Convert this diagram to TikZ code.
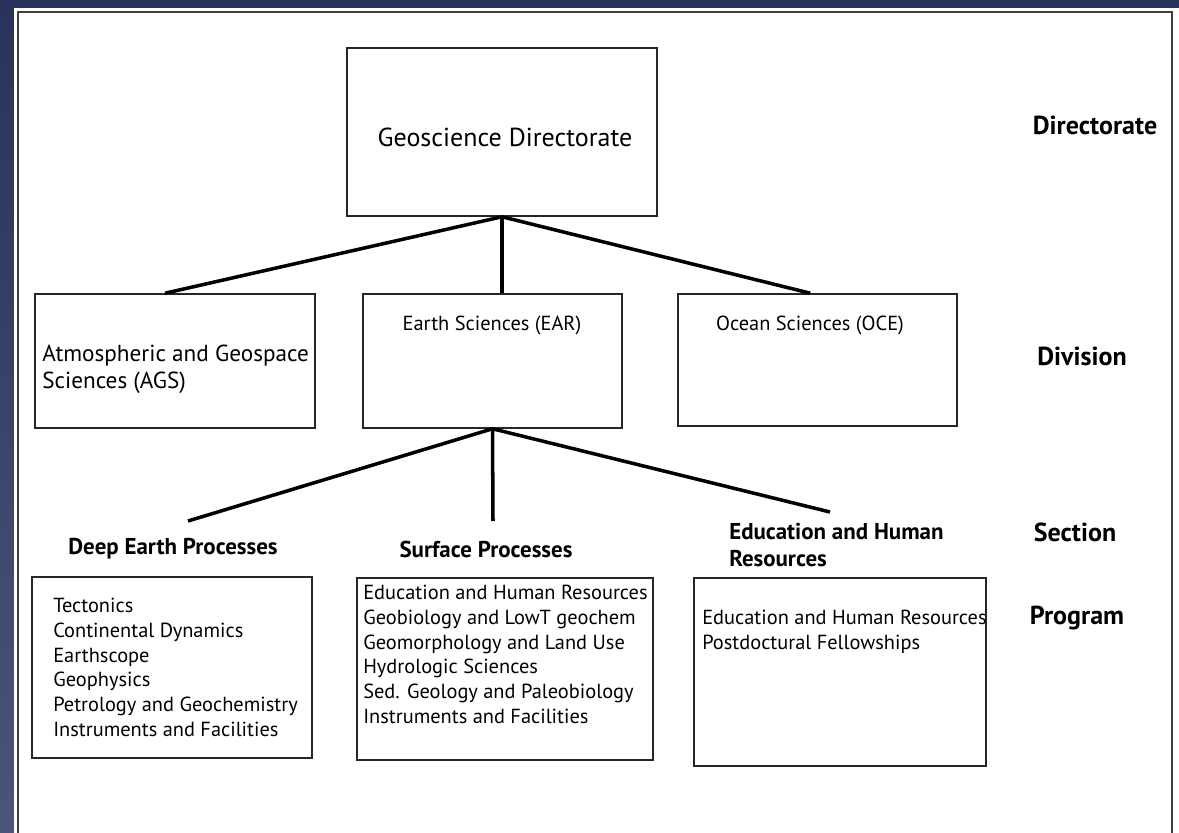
\documentclass[tikz,border=0pt]{standalone}
\usepackage{fontspec}
\setmainfont{PT Sans}
\definecolor{navy}{HTML}{29325A}
\definecolor{navylight}{HTML}{4B5579}
\begin{document}
\begin{tikzpicture}[
  x=0.025cm, y=-0.025cm,
  box/.style={draw=black!85, line width=1.1pt, inner sep=0pt},
  txt/.style={font=\fontsize{14.5}{17.6}\selectfont, align=left, inner sep=0pt},
  head/.style={font=\fontsize{16.3}{19.2}\selectfont\bfseries, align=left, inner sep=0pt},
  level/.style={font=\fontsize{18.5}{22}\selectfont\bfseries, inner sep=0pt},
  link/.style={line width=2.5pt}
]
  \useasboundingbox (0,0) rectangle (1179,833);
  % background and frame
  \fill[navy] (0,0) rectangle (1179,833);
  \shade[top color=navy, bottom color=navylight] (0,0) rectangle (14,833);
  \fill[white] (14,8) rectangle (1179,840);
  \draw[black!75, line width=1.2pt] (18,12) rectangle (1172,850);

  % directorate
  \node[box, minimum width=310*0.025cm, minimum height=168*0.025cm] (geo) at (502,132) {};
  \node[txt, font=\fontsize{18.5}{22}\selectfont] (geo-t) at (505,137) {Geoscience Directorate};

  % divisions
  \node[box, minimum width=280*0.025cm, minimum height=134*0.025cm] (ags) at (175,361) {};
  \node[box, minimum width=259*0.025cm, minimum height=134*0.025cm] (ear) at (492.5,361) {};
  \node[box, minimum width=279*0.025cm, minimum height=132*0.025cm] (oce) at (817.5,360) {};
  \node[txt, font=\fontsize{16.5}{19.2}\selectfont, anchor=west] (ags-t) at (42,369) {Atmospheric and Geospace\\Sciences (AGS)};
  \node[txt] (ear-t) at (492,325) {Earth Sciences (EAR)};
  \node[txt] (oce-t) at (810,325) {Ocean Sciences (OCE)};

  \draw[link] (geo.south) -- ([xshift=-0.25cm]ags.north);
  \draw[link] (geo.south) -- (ear.north -| geo.south);
  \draw[link] (geo.south) -- ([xshift=-0.18cm]oce.north);

  % sections
  \node[head] (dep) at (173,549) {Deep Earth Processes};
  \node[head] (sp) at (486,549) {Surface Processes};
  \node[head, anchor=north west] (ehr) at (729,523) {Education and Human\\Resources};
  \coordinate (dep-top) at (188,521);
  \coordinate (sp-top) at (493,521);
  \coordinate (ehr-top) at (830,512);
  \draw[link] (ear.south) -- (dep-top);
  \draw[link] (ear.south) -- (sp-top);
  \draw[link] (ear.south) -- (ehr-top);

  % programs
  \node[box, minimum width=280*0.025cm, minimum height=181*0.025cm] (dep-p) at (172,667.5) {};
  \node[box, minimum width=296*0.025cm, minimum height=182*0.025cm] (sp-p) at (505,669) {};
  \node[box, minimum width=292*0.025cm, minimum height=188*0.025cm] (ehr-p) at (840,672) {};
  \node[txt, anchor=north west] (dep-l) at (53,598) {Tectonics\\Continental Dynamics\\Earthscope\\Geophysics\\Petrology and Geochemistry\\Instruments and Facilities};
  \node[txt, anchor=north west] (sp-l) at (363,585) {Education and Human Resources\\Geobiology and LowT geochem\\Geomorphology and Land Use\\Hydrologic Sciences\\Sed. Geology and Paleobiology\\Instruments and Facilities};
  \node[txt, anchor=north west] (ehr-l) at (702,610) {Education and Human Resources\\Postdoctural Fellowships};

  % levels
  \node[level] (l-dir) at (1095,125) {Directorate};
  \node[level] (l-div) at (1082,356) {Division};
  \node[level] (l-sec) at (1075,532) {Section};
  \node[level] (l-prog) at (1077,618) {Program};
\end{tikzpicture}
\end{document}
